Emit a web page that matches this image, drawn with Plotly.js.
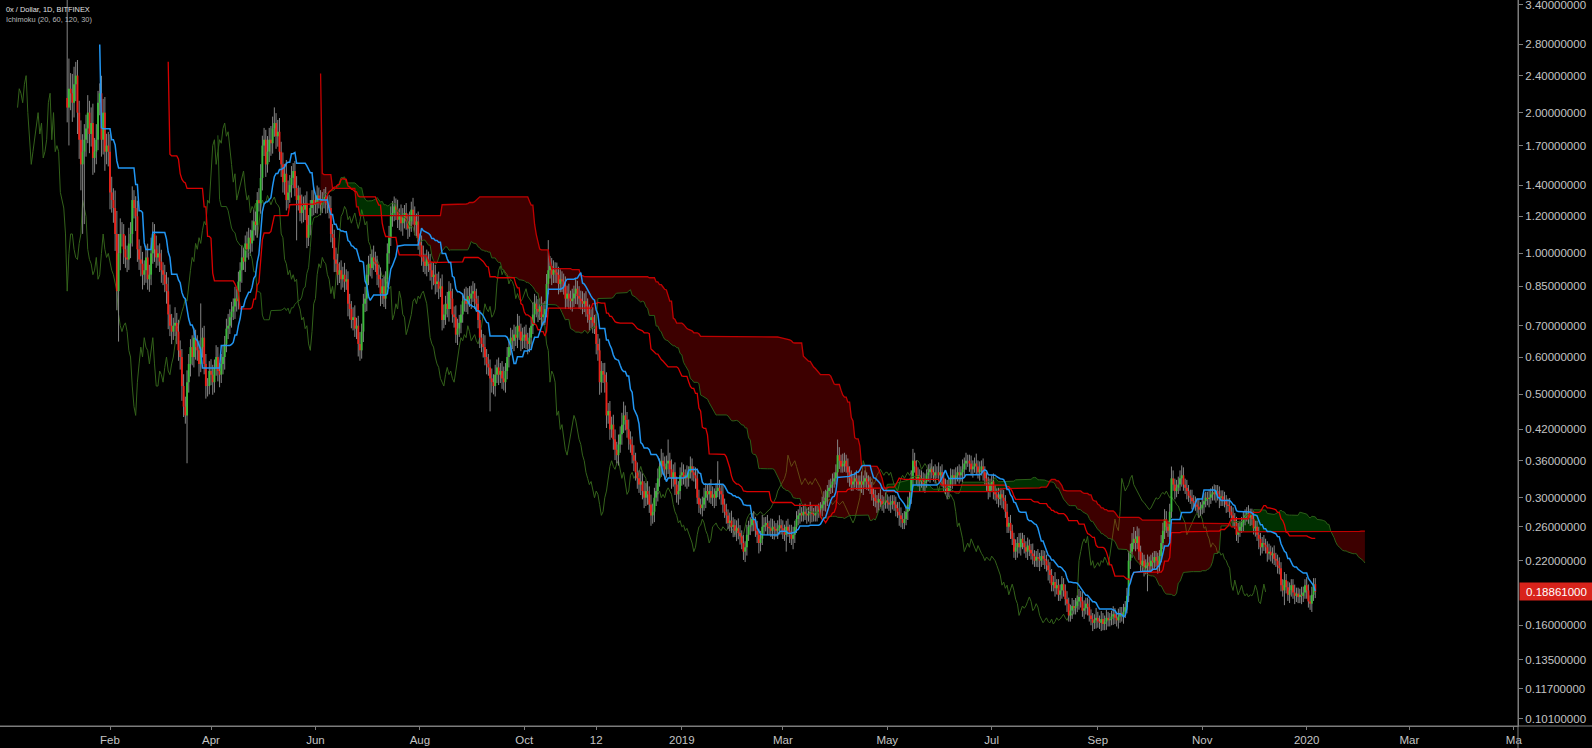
<!DOCTYPE html>
<html><head><meta charset="utf-8">
<script src="https://cdn.plot.ly/plotly-3.0.1.min.js"></script>
<style>html,body{margin:0;padding:0;background:#000;}#chart{width:1592px;height:748px;}</style>
</head><body><div id="chart"></div>
<script>
// ---- data (daily candles, 0x / Dollar, Bitfinex) ----
const firstDay = '2018-01-07';
const firstOpen = 2.15;
const closes = [
2.05,2.25,2.2,2.1,2.3,2.4,2.0,1.75,1.55,1.65,
1.75,1.85,2.0,1.8,1.9,1.6,1.65,1.75,2.1,2.2,
1.75,2.0,1.65,1.7,1.65,1.35,1.3,1.25,1.1,0.83,
1.0,1.1,1.1,1.02,0.98,0.97,1.05,1.1,1.3,1.25,
1.2,1.02,0.97,0.95,0.9,0.92,0.98,0.88,0.9,1.0,
1.1,1.02,0.98,1.0,0.96,0.92,0.9,0.86,0.83,0.74,
0.7,0.68,0.7,0.71,0.68,0.62,0.6,0.52,0.47,0.45,
0.53,0.58,0.63,0.6,0.66,0.63,0.62,0.58,0.63,0.66,
0.58,0.52,0.52,0.56,0.55,0.53,0.57,0.6,0.56,0.55,
0.58,0.6,0.64,0.69,0.7,0.73,0.75,0.77,0.8,0.79,
0.87,0.92,0.98,0.96,1.05,1.02,1.08,1.05,1.12,1.17,
1.15,1.3,1.28,1.45,1.7,1.75,1.55,1.65,1.75,1.72,
1.85,1.9,1.78,1.82,1.65,1.55,1.42,1.48,1.3,1.35,
1.4,1.45,1.5,1.38,1.3,1.33,1.22,1.26,1.24,1.28,
1.08,1.15,1.25,1.3,1.27,1.28,1.33,1.3,1.27,1.3,
1.32,1.28,1.27,1.25,1.1,1.08,0.97,0.95,0.9,0.92,
0.88,0.9,0.87,0.88,0.78,0.76,0.72,0.73,0.69,0.7,
0.64,0.62,0.68,0.78,0.8,0.9,0.95,0.93,0.98,0.96,
0.95,0.9,0.88,0.82,0.85,0.8,0.88,1.0,1.08,1.2,
1.22,1.26,1.24,1.18,1.2,1.16,1.19,1.22,1.17,1.13,
1.17,1.24,1.2,1.15,1.17,1.06,1.04,0.98,0.96,0.94,
0.97,0.95,0.92,0.89,0.9,0.86,0.87,0.84,0.85,0.72,
0.74,0.78,0.76,0.83,0.8,0.74,0.73,0.67,0.69,0.71,
0.74,0.79,0.8,0.78,0.81,0.8,0.82,0.83,0.8,0.78,
0.72,0.66,0.64,0.63,0.6,0.58,0.57,0.54,0.53,0.52,
0.55,0.57,0.55,0.56,0.54,0.53,0.56,0.6,0.63,0.66,
0.65,0.67,0.66,0.7,0.68,0.65,0.66,0.67,0.65,0.64,
0.66,0.7,0.74,0.78,0.76,0.75,0.77,0.73,0.74,0.76,
0.86,0.92,0.94,0.9,0.92,0.91,0.9,0.86,0.88,0.87,
0.85,0.8,0.82,0.8,0.79,0.8,0.82,0.84,0.81,0.8,
0.79,0.78,0.79,0.77,0.74,0.72,0.73,0.71,0.7,0.64,
0.62,0.53,0.56,0.55,0.53,0.45,0.46,0.42,0.43,0.4,
0.38,0.37,0.39,0.41,0.43,0.45,0.44,0.42,0.4,0.39,
0.37,0.36,0.34,0.33,0.32,0.325,0.31,0.3,0.31,0.305,
0.29,0.275,0.28,0.3,0.31,0.33,0.35,0.36,0.35,0.345,
0.355,0.36,0.345,0.33,0.34,0.32,0.305,0.31,0.335,0.34,
0.33,0.335,0.33,0.34,0.35,0.34,0.335,0.33,0.3,0.29,
0.285,0.29,0.3,0.31,0.305,0.31,0.3,0.305,0.3,0.31,
0.315,0.31,0.305,0.29,0.28,0.275,0.265,0.268,0.26,0.262,
0.255,0.258,0.252,0.248,0.24,0.23,0.235,0.25,0.26,0.262,
0.27,0.265,0.255,0.25,0.24,0.245,0.26,0.262,0.265,0.26,
0.258,0.255,0.26,0.257,0.255,0.258,0.262,0.258,0.255,0.25,
0.26,0.255,0.25,0.245,0.25,0.26,0.27,0.275,0.278,0.275,
0.28,0.277,0.275,0.278,0.28,0.277,0.275,0.278,0.28,0.283,
0.285,0.29,0.295,0.3,0.31,0.315,0.32,0.325,0.33,0.34,
0.37,0.36,0.35,0.355,0.36,0.35,0.34,0.33,0.32,0.325,
0.33,0.325,0.32,0.325,0.32,0.325,0.33,0.325,0.32,0.315,
0.305,0.3,0.295,0.293,0.298,0.295,0.29,0.293,0.296,0.293,
0.29,0.292,0.295,0.29,0.285,0.28,0.275,0.27,0.265,0.27,
0.28,0.29,0.3,0.33,0.36,0.35,0.33,0.335,0.325,0.33,
0.32,0.325,0.335,0.34,0.345,0.34,0.335,0.34,0.34,0.335,
0.34,0.33,0.32,0.315,0.31,0.32,0.33,0.335,0.33,0.335,
0.34,0.335,0.34,0.345,0.355,0.36,0.36,0.355,0.345,0.35,
0.355,0.35,0.34,0.345,0.35,0.34,0.33,0.32,0.31,0.32,
0.325,0.31,0.305,0.3,0.298,0.305,0.3,0.295,0.28,0.26,
0.265,0.255,0.245,0.23,0.235,0.24,0.235,0.245,0.24,0.235,
0.23,0.237,0.232,0.228,0.225,0.22,0.224,0.222,0.22,0.225,
0.222,0.22,0.215,0.21,0.205,0.195,0.198,0.192,0.195,0.186,
0.19,0.196,0.19,0.182,0.178,0.168,0.172,0.176,0.174,0.176,
0.18,0.184,0.18,0.172,0.174,0.178,0.175,0.168,0.165,0.162,
0.164,0.166,0.163,0.162,0.165,0.161,0.163,0.166,0.164,0.165,
0.167,0.169,0.166,0.164,0.167,0.17,0.168,0.171,0.175,0.185,
0.22,0.23,0.24,0.245,0.24,0.248,0.23,0.215,0.22,0.212,
0.215,0.218,0.214,0.22,0.218,0.224,0.22,0.215,0.225,0.24,
0.255,0.27,0.26,0.255,0.28,0.33,0.32,0.31,0.315,0.32,
0.33,0.335,0.32,0.315,0.31,0.303,0.3,0.295,0.293,0.29,
0.287,0.283,0.285,0.29,0.295,0.3,0.298,0.3,0.305,0.308,
0.305,0.31,0.305,0.3,0.302,0.297,0.295,0.29,0.288,0.28,
0.275,0.27,0.265,0.25,0.255,0.26,0.265,0.27,0.275,0.278,
0.272,0.276,0.27,0.258,0.26,0.25,0.245,0.235,0.24,0.238,
0.235,0.228,0.23,0.226,0.228,0.222,0.22,0.215,0.212,0.195,
0.19,0.2,0.193,0.186,0.19,0.195,0.188,0.185,0.187,0.184,
0.186,0.185,0.188,0.195,0.19,0.18,0.178,0.186,0.196,0.1886
];
// upper / lower wick length of each day, in % of the body edge
const upWickPct = [
109,16,8,10,9,7,8,6,10,9, 8,7,9,6,8,10,7,8,6,5, 9,7,8,6,7,9,8,6,9,12, 10,8,6,5,7,6,8,6,7,5,
6,8,5,7,6,5,6,7,5,8, 6,5,7,4,5,6,4,5,6,7, 5,6,4,8,5,6,5,4,6,5, 6,5,4,6,5,4,6,5,24,5,
6,5,4,5,6,5,4,6,5,4, 5,6,4,5,6,4,5,4,6,5, 5,4,6,5,4,6,5,4,5,6, 5,4,6,7,5,6,5,8,6,7,
6,8,5,6,7,5,6,5,7,6, 5,6,4,5,6,5,4,6,5,4, 6,5,4,5,6,4,5,4,5,4, 4,5,4,5,6,5,4,6,5,4,
5,4,6,5,4,5,4,5,6,4, 5,6,4,5,6,5,4,5,4,6, 5,4,5,6,4,5,4,5,6,5, 6,5,4,5,4,6,5,4,5,4,
5,4,6,5,4,5,4,5,6,4, 5,4,5,4,6,5,4,5,4,6, 5,4,6,5,4,5,4,6,5,4, 5,4,5,6,4,5,4,5,4,5,
4,5,4,5,6,4,5,4,5,4, 5,4,5,4,5,6,4,5,4,5, 4,5,4,6,5,4,5,4,5,4, 5,4,6,5,4,5,4,5,6,4,
5,16,5,4,5,4,5,4,5,4, 4,5,4,5,4,5,4,5,4,5, 4,5,4,5,4,5,4,5,4,6, 5,6,5,4,6,5,4,5,4,5,
5,4,5,4,6,7,5,4,5,4, 4,5,4,5,4,5,4,5,4,5, 4,5,4,5,4,5,4,6,4,5, 4,11,4,5,4,5,4,5,4,5,
4,3,5,3,5,4,3,4,5,4, 3,4,5,4,3,4,6,4,3,4, 14,4,3,5,3,4,3,4,5,4, 3,4,5,4,3,4,3,5,3,4,
3,4,3,5,3,4,6,4,3,4, 3,5,4,3,3,4,5,3,4,3, 3,4,3,5,4,3,4,3,5,3, 3,4,3,3,5,3,3,4,3,3,
3,4,5,4,3,4,3,4,3,4, 8,4,3,5,4,3,4,3,4,3, 3,4,3,3,5,3,4,3,3,4, 3,3,4,3,3,5,3,3,4,3,
3,4,3,3,4,3,5,4,3,4, 3,4,3,4,6,4,3,4,3,4, 3,4,3,4,3,5,3,4,3,5, 3,4,3,3,4,3,5,3,3,4,
3,4,3,5,3,4,3,3,4,3, 3,5,3,4,3,4,3,3,4,3, 3,4,3,3,5,3,3,4,3,4, 3,4,3,3,4,3,5,3,3,4,
3,4,3,3,5,3,3,4,3,3, 3,4,3,3,4,3,3,5,3,3, 3,4,3,3,4,3,3,4,3,4, 3,4,3,5,4,3,3,4,3,3,
3,5,3,3,4,3,3,4,3,3, 3,4,3,3,4,3,3,4,3,4, 5,4,5,6,4,5,4,3,4,3, 3,4,3,3,4,3,3,4,3,4,
4,5,4,3,4,6,4,3,4,4, 4,5,4,3,4,3,3,4,3,3, 3,4,3,3,4,3,3,4,3,3, 4,3,3,4,3,3,4,3,3,4,
3,4,3,3,4,3,3,4,3,3, 4,3,3,4,3,3,4,3,3,4, 3,3,4,3,3,4,3,3,4,3, 3,4,3,3,4,3,3,4,3,3,
3,4,3,3,4,3,3,4,3,3
];
const downWickPct = [
7,17,8,9,7,8,10,9,12,29, 30,8,7,9,6,8,7,6,5,6, 8,7,9,6,7,8,6,7,8,9, 22,8,6,7,5,6,5,7,6,5,
7,6,5,6,7,5,6,5,6,5, 5,6,5,4,5,6,5,4,6,7, 5,6,4,5,6,5,6,7,5,4, 21,5,6,4,5,6,5,6,4,5,
5,6,5,4,5,6,5,4,5,6, 4,5,6,4,5,4,5,4,6,5, 4,5,6,4,5,4,5,6,4,5, 5,6,4,5,6,5,6,4,5,6,
5,4,6,5,4,6,5,6,5,4, 5,6,5,4,18,5,4,5,6,5, 5,4,5,4,5,4,5,4,5,4, 4,5,4,5,4,5,6,4,5,4,
5,4,5,4,6,5,4,5,4,5, 6,5,4,5,4,6,5,4,5,4, 4,5,4,6,5,4,5,4,5,4, 5,4,5,4,5,4,6,5,4,5,
4,5,4,5,6,4,5,4,5,4, 5,4,5,6,4,5,4,5,4,5, 4,5,4,6,5,4,5,4,5,4, 5,4,5,4,5,4,5,4,5,4,
4,5,4,5,4,5,4,15,5,4, 5,4,5,4,5,4,5,4,5,4, 4,5,4,5,4,5,4,5,4,5, 4,5,4,5,4,5,4,5,4,5,
4,5,4,5,4,5,4,5,4,5, 4,5,4,5,4,5,4,5,4,5, 4,5,4,5,4,5,4,5,4,5, 5,6,5,4,5,6,4,5,4,5,
5,4,5,4,5,4,5,4,5,4, 4,5,4,5,4,5,4,5,4,5, 4,5,4,5,4,5,4,5,4,5, 4,5,4,5,4,5,4,5,4,5,
3,4,5,4,3,4,3,5,3,4, 3,4,3,5,3,4,3,4,5,4, 3,4,5,4,3,4,3,4,3,5, 3,5,3,4,3,4,5,4,3,4,
3,4,3,4,5,4,3,4,3,4, 3,3,4,5,3,4,3,3,4,3, 8,3,4,3,5,4,3,3,4,3, 3,3,4,3,5,4,3,3,4,3,
3,4,3,5,4,3,3,4,3,3, 3,4,3,3,4,3,5,4,3,3, 3,4,3,3,4,5,3,4,3,3, 3,4,3,5,4,3,3,4,3,3,
3,4,3,3,4,3,5,4,3,3, 3,4,3,3,4,3,3,4,5,3, 3,4,3,3,5,3,3,4,3,3, 3,4,3,3,4,3,3,5,3,3,
3,4,3,5,4,3,3,4,3,4, 3,4,3,4,3,4,3,3,4,3, 3,4,3,3,4,3,5,4,3,3, 3,4,3,3,4,5,3,4,3,3,
3,4,3,3,4,3,3,4,5,3, 3,4,3,5,4,3,3,4,3,3, 3,4,3,3,4,3,3,4,3,3, 3,4,3,3,4,3,4,3,3,4,
3,4,3,3,4,3,3,4,3,3, 3,4,3,3,4,3,3,4,3,3, 3,4,3,3,4,3,4,3,3,4, 3,12,3,3,4,3,3,4,3,3,
3,4,3,3,4,3,3,4,3,3, 3,4,3,3,4,3,3,4,3,3, 3,4,3,3,4,3,3,4,3,3, 3,4,3,5,4,3,3,4,3,3,
3,4,3,3,4,3,3,4,3,3, 3,4,3,3,4,3,5,4,3,3, 3,4,3,3,4,3,3,4,3,3, 3,7,3,3,4,3,3,4,3,3,
3,4,3,3,4,3,3,4,3,3
];
const priceTicks = [3.4,2.8,2.4,2.0,1.7,1.4,1.2,1.0,0.85,0.7,0.6,0.5,0.42,0.36,0.3,0.26,0.22,0.16,0.135,0.117,0.101];
const timeTicks = ['2018-02-01','2018-04-01','2018-06-01','2018-08-01','2018-10-01','2018-11-12','2019-01-01','2019-03-01','2019-05-01','2019-07-01','2019-09-01','2019-11-01','2020-01-01','2020-03-01','2020-05-01'];
const timeLabels = ['Feb','Apr','Jun','Aug','Oct','12','2019','Mar','May','Jul','Sep','Nov','2020','Mar','Ma'];
const lastPrice = 0.18861;
const conversionLen = 20, baseLen = 60, spanBLen = 120, displacement = 30;

// ---- build ----
const DAY = 864e5;
const t0 = Date.parse(firstDay + 'T00:00:00Z');
const n = closes.length;
const dstr = ms => new Date(ms).toISOString().replace('T',' ').replace('Z','');
const dateAt = k => dstr(t0 + k * DAY);
const opens = closes.map((c, i) => i === 0 ? firstOpen : closes[i - 1]);
const highs = closes.map((c, i) => Math.max(opens[i], c) * (1 + upWickPct[i] / 100));
const lows = closes.map((c, i) => Math.min(opens[i], c) * (1 - downWickPct[i] / 100));

function donchian(i, len) {
  if (i < len - 1) return null;
  let hi = -Infinity, lo = Infinity;
  for (let j = i - len + 1; j <= i; j++) { hi = Math.max(hi, highs[j]); lo = Math.min(lo, lows[j]); }
  return (hi + lo) / 2;
}
const off = displacement - 1;
const tenkan = [], kijun = [], spanA = {}, spanB = {};
for (let i = 0; i < n; i++) {
  tenkan.push(donchian(i, conversionLen));
  kijun.push(donchian(i, baseLen));
  if (tenkan[i] !== null && kijun[i] !== null) spanA[i + off] = (tenkan[i] + kijun[i]) / 2;
  const b = donchian(i, spanBLen);
  if (b !== null) spanB[i + off] = b;
}
const xs = closes.map((c, i) => dateAt(i));

// wicks and bodies as vertical segments
const wx = [], wy = [], ux = [], uy = [], dx = [], dy = [];
for (let i = 0; i < n; i++) {
  wx.push(xs[i], xs[i], null); wy.push(lows[i], highs[i], null);
  if (closes[i] >= opens[i]) { ux.push(xs[i], xs[i], null); uy.push(opens[i], closes[i], null); }
  else { dx.push(xs[i], xs[i], null); dy.push(opens[i], closes[i], null); }
}
// lagging span
const chX = [], chY = [];
for (let i = 0; i < n; i++) { chX.push(dateAt(i - off)); chY.push(closes[i]); }
// leading spans
const aKeys = Object.keys(spanA).map(Number).sort((a, b) => a - b);
const aX = aKeys.map(dateAt), aY = aKeys.map(k => spanA[k]);
const bKeys = Object.keys(spanB).map(Number).sort((a, b) => a - b);
const bX = bKeys.map(dateAt), bY = bKeys.map(k => spanB[k]);
const cKeys = bKeys.filter(k => spanA[k] !== undefined);
const cX = cKeys.map(dateAt);
const cA = cKeys.map(k => spanA[k]), cB = cKeys.map(k => spanB[k]);
const cMax = cKeys.map(k => Math.max(spanA[k], spanB[k]));
const tX = [], tY = [], kX = [], kY = [];
for (let i = 0; i < n; i++) {
  if (tenkan[i] !== null) { tX.push(xs[i]); tY.push(tenkan[i]); }
  if (kijun[i] !== null) { kX.push(xs[i]); kY.push(kijun[i]); }
}

const noHover = {hoverinfo: 'skip', showlegend: false};
const traces = [
  Object.assign({x: chX, y: chY, mode: 'lines', line: {color: '#33621a', width: 1}}, noHover),
  Object.assign({x: cX, y: cB, mode: 'lines', line: {width: 0, color: 'rgba(0,0,0,0)'}}, noHover),
  Object.assign({x: cX, y: cMax, mode: 'lines', line: {width: 0, color: 'rgba(0,0,0,0)'}, fill: 'tonexty', fillcolor: 'rgba(0,200,0,0.24)'}, noHover),
  Object.assign({x: cX, y: cA, mode: 'lines', line: {width: 0, color: 'rgba(0,0,0,0)'}}, noHover),
  Object.assign({x: cX, y: cMax, mode: 'lines', line: {width: 0, color: 'rgba(0,0,0,0)'}, fill: 'tonexty', fillcolor: 'rgba(235,0,0,0.26)'}, noHover),
  Object.assign({x: wx, y: wy, mode: 'lines', line: {color: '#858585', width: 1}, connectgaps: false}, noHover),
  Object.assign({x: dx, y: dy, mode: 'lines', line: {color: '#ea2119', width: 1.9}, connectgaps: false}, noHover),
  Object.assign({x: ux, y: uy, mode: 'lines', line: {color: '#3cba3c', width: 1.9}, connectgaps: false}, noHover),
  Object.assign({x: aX, y: aY, mode: 'lines', line: {color: '#2b5e18', width: 1}}, noHover),
  Object.assign({x: bX, y: bY, mode: 'lines', line: {color: '#c00000', width: 1.3}}, noHover),
  Object.assign({x: kX, y: kY, mode: 'lines', line: {color: '#d90000', width: 1.3}}, noHover),
  Object.assign({x: tX, y: tY, mode: 'lines', line: {color: '#2196f3', width: 1.5}}, noHover)
];

const feb1 = Date.parse('2018-02-01T00:00:00Z');
const pxPerDay = 1.712, plotW = 1518, plotH = 726;
const xStart = feb1 - (110 / pxPerDay) * DAY;
const xEnd = xStart + (plotW / pxPerDay) * DAY;
const font = 'Liberation Sans, Arial, sans-serif';
const axisColor = '#7c7c7c', labelColor = '#c4c4c4';

const layout = {
  width: 1592, height: 748, autosize: false,
  paper_bgcolor: '#000000', plot_bgcolor: '#000000',
  margin: {l: 0, r: 74, t: 0, b: 22, pad: 0},
  showlegend: false, hovermode: false,
  xaxis: {
    type: 'date', range: [dstr(xStart), dstr(xEnd)], tickmode: 'array', tickvals: timeTicks, ticktext: timeLabels,
    showgrid: false, zeroline: false, showline: true, linecolor: axisColor, linewidth: 1,
    ticks: 'outside', ticklen: 3, tickcolor: axisColor, tickfont: {family: font, size: 11.5, color: labelColor},
    ticklabeloverflow: 'allow', fixedrange: true
  },
  yaxis: {
    type: 'log', side: 'right', range: [-1.0113, 0.542], tickmode: 'array', tickvals: priceTicks,
    ticktext: priceTicks.map(v => v.toFixed(8)),
    showgrid: false, zeroline: false, showline: true, linecolor: axisColor, linewidth: 1,
    ticks: 'outside', ticklen: 4, tickcolor: axisColor, tickfont: {family: font, size: 11.5, color: labelColor},
    ticklabeloverflow: 'allow', fixedrange: true
  },
  shapes: [
    {type: 'line', xref: 'paper', yref: 'paper', x0: 0, x1: 1592 / plotW, y0: 0, y1: 0, line: {color: axisColor, width: 1}},
    {type: 'line', xref: 'paper', yref: 'paper', x0: 1, x1: 1, y0: -22 / plotH, y1: 1, line: {color: axisColor, width: 1}}
  ],
  annotations: [
    {xref: 'paper', yref: 'paper', x: 0, y: 1 - 9.3 / plotH, xanchor: 'left', yanchor: 'middle', xshift: 4, showarrow: false,
     text: '0x / Dollar, 1D, BITFINEX', font: {family: font, size: 7.4, color: '#e0e0e0'}},
    {xref: 'paper', yref: 'paper', x: 0, y: 1 - 19.5 / plotH, xanchor: 'left', yanchor: 'middle', xshift: 4, showarrow: false,
     text: 'Ichimoku (20, 60, 120, 30)', font: {family: font, size: 7.4, color: '#b8b8b8'}},
    {xref: 'paper', yref: 'y', x: 1, y: Math.log10(lastPrice), xanchor: 'left', yanchor: 'middle', xshift: 1, showarrow: false,
     text: lastPrice.toFixed(8), bgcolor: '#d8231b', borderpad: 2, width: 69, height: 13, align: 'center',
     font: {family: font, size: 11.5, color: '#ffffff'}}
  ]
};

Plotly.newPlot('chart', traces, layout, {staticPlot: true, displayModeBar: false});
</script>
</body></html>
